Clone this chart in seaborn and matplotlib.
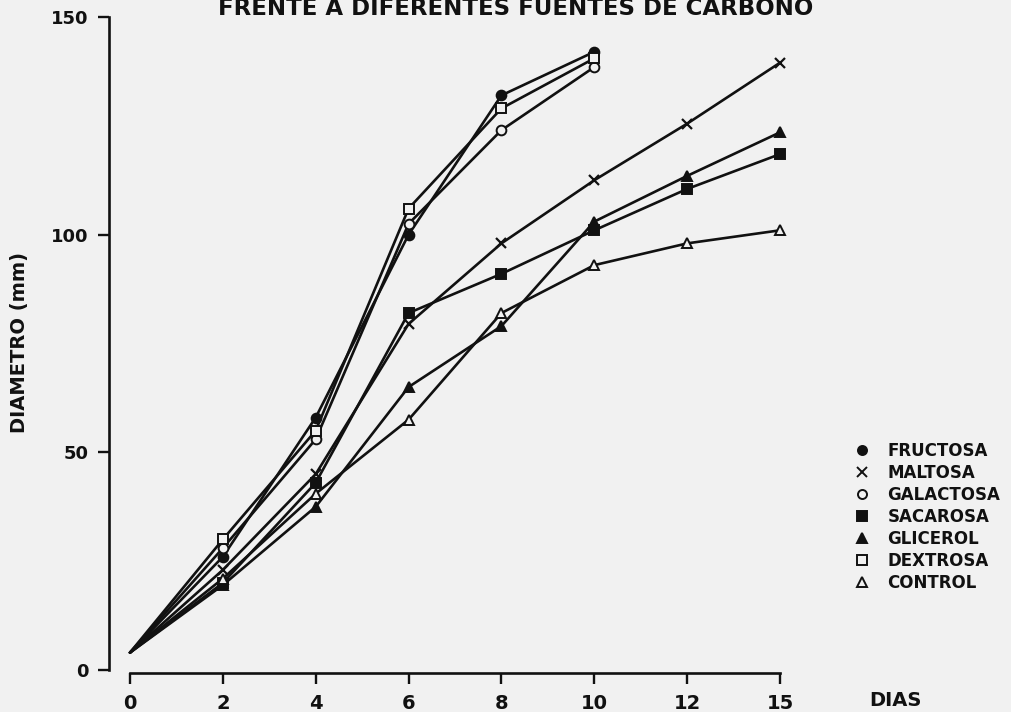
import numpy as np
import pandas as pd
import matplotlib
matplotlib.use("Agg")
import matplotlib.pyplot as plt
from matplotlib.lines import Line2D
import seaborn as sns

# Days of measurement (evenly spaced on the axis)
dias = [0, 2, 4, 6, 8, 10, 12, 15]

# Colony diameter (mm) for each carbon source
fructosa = [4, 26, 58, 100, 132, 142]
maltosa = [4, 23, 45, 79.5, 98, 112.5, 125.5, 139.5]
galactosa = [4, 28, 53, 102.5, 124, 138.5]
sacarosa = [4, 20, 43, 82, 91, 101, 110.5, 118.5]
glicerol = [4, 19.5, 37.5, 65, 79, 103, 113.5, 123.5]
dextrosa = [4, 30, 55, 106, 129, 140.5]
control = [4, 21, 40.5, 57.5, 82, 93, 98, 101]

nombres = ["FRUCTOSA", "MALTOSA", "GALACTOSA", "SACAROSA", "GLICEROL", "DEXTROSA", "CONTROL"]
series = [fructosa, maltosa, galactosa, sacarosa, glicerol, dextrosa, control]

BG = "#f1f1f1"
INK = "#111111"

# marker, filled?
estilos = {
    "FRUCTOSA": ("o", True),
    "MALTOSA": ("x", True),
    "GALACTOSA": ("o", False),
    "SACAROSA": ("s", True),
    "GLICEROL": ("^", True),
    "DEXTROSA": ("s", False),
    "CONTROL": ("^", False),
}

rows = []
for nombre, vals in zip(nombres, series):
    for i, v in enumerate(vals):
        rows.append({"fuente": nombre, "pos": i, "dia": dias[i], "diametro": v})
df = pd.DataFrame(rows)

sns.set_theme(style="ticks")
plt.rcParams["font.family"] = ["DejaVu Sans"]
plt.rcParams["font.weight"] = "bold"

W, H = 1012, 712
x0, x1 = 130, 780
y0, y1 = 670, 17

fig = plt.figure(figsize=(W / 100, H / 100), dpi=100, facecolor=BG)
ax = fig.add_axes([x0 / W, 1 - y0 / H, (x1 - x0) / W, (y0 - y1) / H])
ax.set_facecolor(BG)

for nombre in nombres:
    sub = df[df["fuente"] == nombre]
    mk, filled = estilos[nombre]
    sns.lineplot(
        data=sub, x="pos", y="diametro", ax=ax, color=INK, linewidth=1.9,
        marker=mk, markersize=7 if mk != "x" else 7.5,
        markerfacecolor=INK if filled else BG, markeredgecolor=INK,
        markeredgewidth=1.4 if mk != "x" else 1.6,
        markevery=list(range(1, len(sub))), estimator=None, sort=False,
        legend=False, clip_on=False,
    )

ax.set_xlim(0, 7)
ax.set_ylim(0, 150)
ax.set_xticks(range(len(dias)))
ax.set_xticklabels([str(d) for d in dias])
ax.set_yticks([0, 50, 100, 150])
ax.set_xlabel("")
ax.set_ylabel("DIAMETRO (mm)", fontsize=14, fontweight="bold", color=INK,
              va="center")
ax.yaxis.set_label_coords(20 / W, 1 - 343 / H, transform=fig.transFigure)

sns.despine(ax=ax, offset={"left": 15, "bottom": 2})
for s in ("left", "bottom"):
    ax.spines[s].set_linewidth(1.9)
    ax.spines[s].set_color(INK)

ax.tick_params(axis="y", length=8, width=1.7, pad=7, labelsize=13, colors=INK)
ax.tick_params(axis="x", length=8, width=1.7, pad=7, labelsize=14, colors=INK)

fig.text(895 / W, 1 - 700 / H, "DIAS", fontsize=14, fontweight="bold",
         ha="center", va="center", color=INK)

fig.text(516 / W, 1 - 15 / H, "FRENTE A DIFERENTES FUENTES DE CARBONO",
         fontsize=16.5, fontweight="bold", ha="center", va="baseline", color=INK)

handles = []
for nombre in nombres:
    mk, filled = estilos[nombre]
    handles.append(Line2D([], [], linestyle="none", marker=mk, markersize=6.5,
                          markerfacecolor=INK if filled else BG, markeredgecolor=INK,
                          markeredgewidth=1.4, color=INK))
leg = fig.legend(handles, nombres, loc="upper left",
                 bbox_to_anchor=(854 / W, 1 - 442 / H), frameon=False,
                 handlelength=1.0, handletextpad=1.0, labelspacing=0.24,
                 borderaxespad=0, borderpad=0, labelcolor=INK,
                 prop={"size": 12, "weight": "bold"})

fig.savefig("out.png", dpi=100, facecolor=BG)
